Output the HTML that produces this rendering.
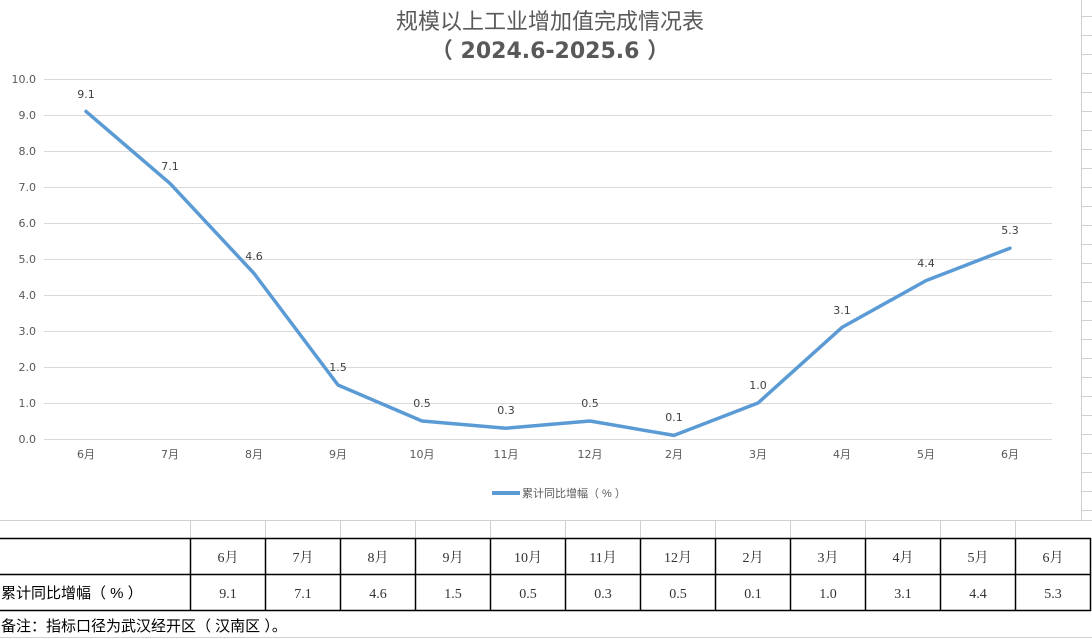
<!DOCTYPE html>
<html><head><meta charset="utf-8"><style>
html,body{margin:0;padding:0;background:#fff;}
svg{display:block;}
</style></head><body>
<svg width="1092" height="639" xmlns="http://www.w3.org/2000/svg" font-family="Liberation Sans, Noto Sans CJK SC, sans-serif">
<rect width="1092" height="639" fill="#fff"/>
<g stroke="#d0d0d0" stroke-width="1">
<line x1="1081.5" y1="0" x2="1081.5" y2="520"/>
<line x1="1081" y1="16.5" x2="1092" y2="16.5"/><line x1="1081" y1="35.5" x2="1092" y2="35.5"/>
<line x1="1081" y1="54.5" x2="1092" y2="54.5"/><line x1="1081" y1="73.5" x2="1092" y2="73.5"/>
<line x1="1081" y1="92.5" x2="1092" y2="92.5"/><line x1="1081" y1="111.5" x2="1092" y2="111.5"/>
<line x1="1081" y1="130.5" x2="1092" y2="130.5"/><line x1="1081" y1="149.5" x2="1092" y2="149.5"/>
<line x1="1081" y1="168.5" x2="1092" y2="168.5"/><line x1="1081" y1="187.5" x2="1092" y2="187.5"/>
<line x1="1081" y1="206.5" x2="1092" y2="206.5"/><line x1="1081" y1="225.5" x2="1092" y2="225.5"/>
<line x1="1081" y1="244.5" x2="1092" y2="244.5"/><line x1="1081" y1="263.5" x2="1092" y2="263.5"/>
<line x1="1081" y1="282.5" x2="1092" y2="282.5"/><line x1="1081" y1="301.5" x2="1092" y2="301.5"/>
<line x1="1081" y1="320.5" x2="1092" y2="320.5"/><line x1="1081" y1="339.5" x2="1092" y2="339.5"/>
<line x1="1081" y1="358.5" x2="1092" y2="358.5"/><line x1="1081" y1="377.5" x2="1092" y2="377.5"/>
<line x1="1081" y1="396.5" x2="1092" y2="396.5"/><line x1="1081" y1="415.5" x2="1092" y2="415.5"/>
<line x1="1081" y1="434.5" x2="1092" y2="434.5"/><line x1="1081" y1="453.5" x2="1092" y2="453.5"/>
<line x1="1081" y1="472.5" x2="1092" y2="472.5"/><line x1="1081" y1="491.5" x2="1092" y2="491.5"/>
<line x1="1081" y1="510.5" x2="1092" y2="510.5"/>
</g>
<text x="550" y="29" text-anchor="middle" font-size="22" fill="#595959">规模以上工业增加值完成情况表</text>
<text x="550" y="58" text-anchor="middle" font-size="22" font-weight="bold" fill="#595959" font-family="DejaVu Sans, Noto Sans CJK SC, sans-serif" xml:space="preserve">（ 2024.6-2025.6 ）</text>
<g stroke="#d9d9d9" stroke-width="1">
<line x1="44" y1="79.5" x2="1052" y2="79.5"/><line x1="44" y1="115.5" x2="1052" y2="115.5"/>
<line x1="44" y1="151.5" x2="1052" y2="151.5"/><line x1="44" y1="187.5" x2="1052" y2="187.5"/>
<line x1="44" y1="223.5" x2="1052" y2="223.5"/><line x1="44" y1="259.5" x2="1052" y2="259.5"/>
<line x1="44" y1="295.5" x2="1052" y2="295.5"/><line x1="44" y1="331.5" x2="1052" y2="331.5"/>
<line x1="44" y1="367.5" x2="1052" y2="367.5"/><line x1="44" y1="403.5" x2="1052" y2="403.5"/>
<line x1="44" y1="439.5" x2="1052" y2="439.5"/>
</g>
<g font-size="11" fill="#595959" text-anchor="end" font-family="DejaVu Sans, sans-serif">
<text x="36" y="83">10.0</text><text x="36" y="119">9.0</text><text x="36" y="155">8.0</text>
<text x="36" y="191">7.0</text><text x="36" y="227">6.0</text><text x="36" y="263">5.0</text>
<text x="36" y="299">4.0</text><text x="36" y="335">3.0</text><text x="36" y="371">2.0</text>
<text x="36" y="407">1.0</text><text x="36" y="443">0.0</text>
</g>
<g font-size="11" fill="#595959" text-anchor="middle" font-family="DejaVu Sans, Noto Sans CJK SC, sans-serif">
<text x="86" y="458">6月</text><text x="170" y="458">7月</text><text x="254" y="458">8月</text>
<text x="338" y="458">9月</text><text x="422" y="458">10月</text><text x="506" y="458">11月</text>
<text x="590" y="458">12月</text><text x="674" y="458">2月</text><text x="758" y="458">3月</text>
<text x="842" y="458">4月</text><text x="926" y="458">5月</text><text x="1010" y="458">6月</text>
</g>
<polyline fill="none" stroke="#5b9bd5" stroke-width="3.5" stroke-linejoin="round" stroke-linecap="round"
points="86,111.4 170,183.4 254,273.4 338,385 422,421 506,428.2 590,421 674,435.4 758,403 842,327.4 926,280.6 1010,248.2"/>
<g font-size="11" fill="#404040" text-anchor="middle" font-family="DejaVu Sans, sans-serif">
<text x="86" y="98">9.1</text><text x="170" y="170">7.1</text><text x="254" y="260">4.6</text>
<text x="338" y="371">1.5</text><text x="422" y="407">0.5</text><text x="506" y="414">0.3</text>
<text x="590" y="407">0.5</text><text x="674" y="421">0.1</text><text x="758" y="389">1.0</text>
<text x="842" y="314">3.1</text><text x="926" y="267">4.4</text><text x="1010" y="234">5.3</text>
</g>
<line x1="492" y1="493" x2="520" y2="493" stroke="#5b9bd5" stroke-width="4"/>
<text x="522" y="497" font-size="11" fill="#595959" xml:space="preserve">累计同比增幅（ % ）</text>
<g stroke="#d0d0d0" stroke-width="1">
<line x1="0" y1="520.5" x2="1092" y2="520.5"/>
<line x1="190.5" y1="520" x2="190.5" y2="538"/><line x1="265.5" y1="520" x2="265.5" y2="538"/>
<line x1="340.5" y1="520" x2="340.5" y2="538"/><line x1="415.5" y1="520" x2="415.5" y2="538"/>
<line x1="490.5" y1="520" x2="490.5" y2="538"/><line x1="565.5" y1="520" x2="565.5" y2="538"/>
<line x1="640.5" y1="520" x2="640.5" y2="538"/><line x1="715.5" y1="520" x2="715.5" y2="538"/>
<line x1="790.5" y1="520" x2="790.5" y2="538"/><line x1="865.5" y1="520" x2="865.5" y2="538"/>
<line x1="940.5" y1="520" x2="940.5" y2="538"/><line x1="1015.5" y1="520" x2="1015.5" y2="538"/>
<line x1="0" y1="637.5" x2="1092" y2="637.5"/>
</g>
<g stroke="#000" stroke-width="1.5">
<line x1="0" y1="538.5" x2="1091" y2="538.5"/>
<line x1="0" y1="574.5" x2="1091" y2="574.5"/>
<line x1="0" y1="610.5" x2="1091" y2="610.5"/>
<line x1="190.5" y1="538" x2="190.5" y2="611"/><line x1="265.5" y1="538" x2="265.5" y2="611"/>
<line x1="340.5" y1="538" x2="340.5" y2="611"/><line x1="415.5" y1="538" x2="415.5" y2="611"/>
<line x1="490.5" y1="538" x2="490.5" y2="611"/><line x1="565.5" y1="538" x2="565.5" y2="611"/>
<line x1="640.5" y1="538" x2="640.5" y2="611"/><line x1="715.5" y1="538" x2="715.5" y2="611"/>
<line x1="790.5" y1="538" x2="790.5" y2="611"/><line x1="865.5" y1="538" x2="865.5" y2="611"/>
<line x1="940.5" y1="538" x2="940.5" y2="611"/><line x1="1015.5" y1="538" x2="1015.5" y2="611"/>
<line x1="1090.5" y1="538" x2="1090.5" y2="611"/>
</g>
<g font-size="14" fill="#333" text-anchor="middle" font-family="Liberation Serif, Noto Serif CJK SC, serif">
<text x="228" y="562">6月</text><text x="303" y="562">7月</text><text x="378" y="562">8月</text>
<text x="453" y="562">9月</text><text x="528" y="562">10月</text><text x="603" y="562">11月</text>
<text x="678" y="562">12月</text><text x="753" y="562">2月</text><text x="828" y="562">3月</text>
<text x="903" y="562">4月</text><text x="978" y="562">5月</text><text x="1053" y="562">6月</text>
<text x="228" y="598">9.1</text><text x="303" y="598">7.1</text><text x="378" y="598">4.6</text>
<text x="453" y="598">1.5</text><text x="528" y="598">0.5</text><text x="603" y="598">0.3</text>
<text x="678" y="598">0.5</text><text x="753" y="598">0.1</text><text x="828" y="598">1.0</text>
<text x="903" y="598">3.1</text><text x="978" y="598">4.4</text><text x="1053" y="598">5.3</text>
</g>
<text x="1" y="598" font-size="15" fill="#000" xml:space="preserve">累计同比增幅（ % ）</text>
<text x="1" y="631" font-size="15" fill="#000" xml:space="preserve">备注：指标口径为武汉经开区（ 汉南区 ）。</text>
</svg>
</body></html>
